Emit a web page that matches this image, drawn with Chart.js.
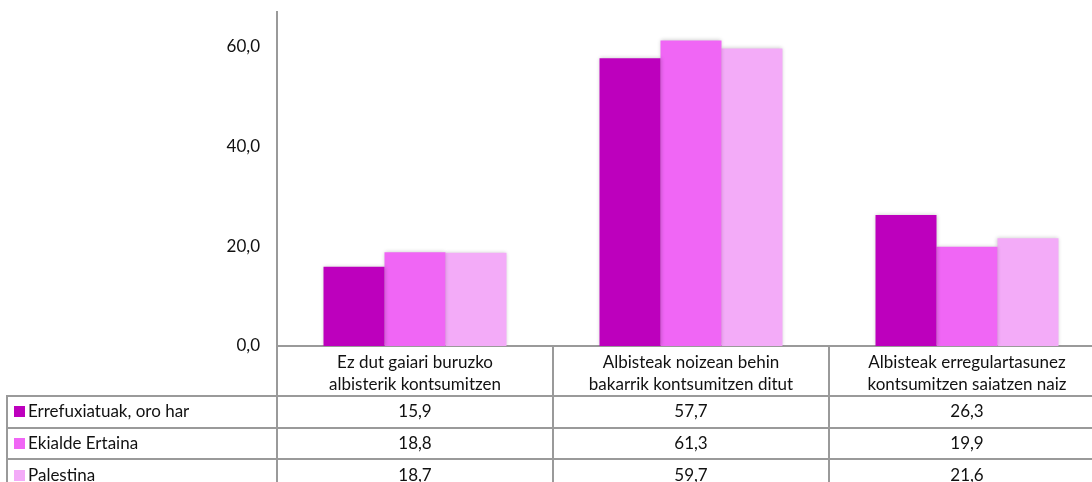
<!DOCTYPE html>
<html>
<head>
<meta charset="utf-8">
<script src="https://cdn.jsdelivr.net/npm/chart.js@4"></script>
<style>
  html, body { margin: 0; padding: 0; background: #fff; overflow: hidden; }
  #frame { width: 1092px; height: 482px; overflow: hidden; position: relative; }
  #chart { display: block; }
</style>
</head>
<body>
<div id="frame"><canvas id="chart" width="1112" height="500"></canvas></div>
<script>
// Categories (two-line labels) and series values
const categories = [
  ['Ez dut gaiari buruzko', 'albisterik kontsumitzen'],
  ['Albisteak noizean behin', 'bakarrik kontsumitzen ditut'],
  ['Albisteak erregulartasunez', 'kontsumitzen saiatzen naiz']
];
const seriesNames = ['Errefuxiatuak, oro har', 'Ekialde Ertaina', 'Palestina'];
const refugeesAll = [15.9, 57.7, 26.3];
const middleEast = [18.8, 61.3, 19.9];
const palestine = [18.7, 59.7, 21.6];
const yTicks = [0, 20, 40, 60];

const colors = ['#BD00BD', '#F066F5', '#F3ABF8'];
const FONT = '"Lato", "Open Sans", sans-serif';
const FONT_SIZE = 17;
const TEXT = '#111111';
const LINE = '#9a9a9a';
const fmt = v => v.toFixed(1).replace('.', ',');

const seriesValues = [refugeesAll, middleEast, palestine];

// Data table drawn under the plot, aligned to the category scale
const dataTable = {
  id: 'dataTable',
  beforeDatasetsDraw(chart) {
    const ctx = chart.ctx;
    ctx.save();
    ctx.shadowColor = 'rgba(0,0,0,0.22)';
    ctx.shadowBlur = 4;
    chart._shadowSaved = true;
  },
  afterDatasetsDraw(chart) {
    if (chart._shadowSaved) { chart.ctx.restore(); chart._shadowSaved = false; }
  },
  afterDraw(chart) {
    const ctx = chart.ctx;
    const x = chart.scales.x;
    const area = chart.chartArea;
    const n = categories.length;
    const colW = (x.right - x.left) / n;
    const headerH = 50;
    const rowH = 31.7;
    const tableLeft = 7;
    const top = area.bottom;
    const headerBottom = top + headerH;
    const right = x.right;

    ctx.save();
    ctx.strokeStyle = LINE;
    ctx.lineWidth = 2;
    ctx.beginPath();
    // vertical lines: category boundaries
    for (let i = 0; i <= n; i++) {
      const px = Math.round(x.left + i * colW);
      ctx.moveTo(px, top);
      ctx.lineTo(px, headerBottom + rowH * seriesNames.length + 2);
    }
    // left border of the series rows
    ctx.moveTo(tableLeft, headerBottom);
    ctx.lineTo(tableLeft, headerBottom + rowH * seriesNames.length + 2);
    // horizontal lines
    for (let r = 0; r <= seriesNames.length; r++) {
      const py = Math.round(headerBottom + r * rowH);
      ctx.moveTo(tableLeft - 1, py);
      ctx.lineTo(right, py);
    }
    ctx.stroke();

    ctx.font = FONT_SIZE + 'px ' + FONT;
    ctx.textBaseline = 'middle';
    seriesNames.forEach((name, r) => {
      const cy = headerBottom + r * rowH + rowH / 2;
      ctx.fillStyle = colors[r];
      ctx.fillRect(14, Math.round(cy - 5.5), 11, 11);
      ctx.fillStyle = TEXT;
      ctx.textAlign = 'left';
      ctx.fillText(name, 28, cy);
      ctx.textAlign = 'center';
      seriesValues[r].forEach((v, i) => {
        ctx.fillText(fmt(v), x.getPixelForValue(i), cy);
      });
    });
    ctx.restore();
  }
};

new Chart(document.getElementById('chart'), {
  type: 'bar',
  data: {
    labels: categories,
    datasets: seriesNames.map((name, i) => ({
      label: name,
      data: seriesValues[i],
      backgroundColor: colors[i],
      borderWidth: 0,
      barPercentage: 1,
      categoryPercentage: 0.663
    }))
  },
  options: {
    responsive: false,
    animation: false,
    layout: { padding: { top: 12, right: 7, left: 0, bottom: 0 } },
    plugins: { legend: { display: false }, tooltip: { enabled: false } },
    scales: {
      x: {
        grid: { display: false, drawTicks: false },
        border: { display: true, color: LINE, width: 2 },
        ticks: {
          color: TEXT,
          font: { family: FONT, size: FONT_SIZE, lineHeight: 1.3 },
          padding: 5,
          maxRotation: 0,
          autoSkip: false
        },
        afterFit(scale) {
          scale.height = 154;
          scale.paddingLeft = 0;
          scale.paddingRight = 0;
        }
      },
      y: {
        min: 0,
        max: 67,
        grid: { display: false, drawTicks: false },
        border: { display: true, color: LINE, width: 2 },
        ticks: {
          stepSize: 20,
          padding: 17,
          color: TEXT,
          font: { family: FONT, size: FONT_SIZE },
          callback: v => fmt(v)
        },
        afterBuildTicks(scale) {
          scale.ticks = yTicks.map(v => ({ value: v }));
        },
        afterFit(scale) {
          scale.width = 277;
          scale.paddingTop = 0;
          scale.paddingBottom = 0;
        }
      }
    }
  },
  plugins: [dataTable]
});
</script>
</body>
</html>
